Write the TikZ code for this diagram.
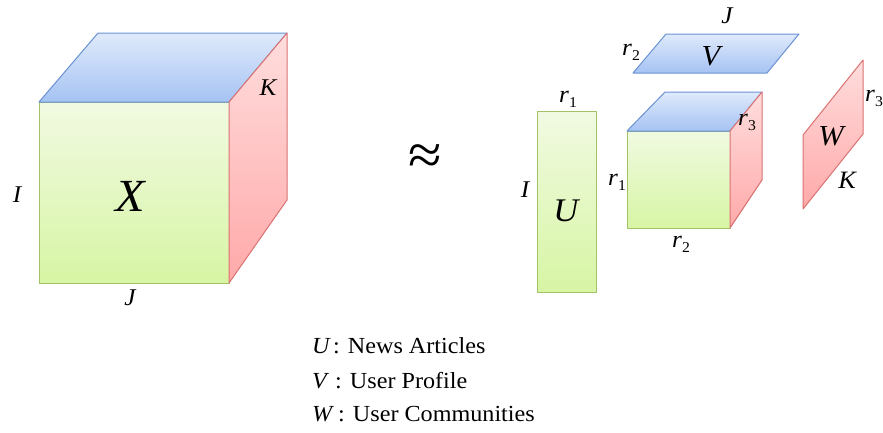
\documentclass[tikz,border=0pt]{standalone}
\usepackage{fontspec}
\setmainfont[FakeStretch=1.05]{Liberation Serif}
\newcommand\rsub[1]{\textit{r}\kern0.3pt\raisebox{-0.45ex}{\fontsize{15}{15}\selectfont\upshape #1}}
\definecolor{gTop}{HTML}{F1FAE2}
\definecolor{gBot}{HTML}{D7F5A4}
\definecolor{gLine}{HTML}{A3C266}
\definecolor{bTop}{HTML}{DFEAFB}
\definecolor{bBot}{HTML}{A6C3F3}
\definecolor{bLine}{HTML}{6A92D2}
\definecolor{rTop}{HTML}{FFDDDD}
\definecolor{rBot}{HTML}{FFA9A9}
\definecolor{rLine}{HTML}{DB7272}
\tikzset{
  gface/.style={top color=gTop,bottom color=gBot,draw=gLine,line width=1pt,line join=round},
  bface/.style={top color=bTop,bottom color=bBot,draw=bLine,line width=1pt,line join=round},
  rface/.style={top color=rTop,bottom color=rBot,draw=rLine,line width=1pt,line join=round},
  lab/.style={inner sep=0pt,font=\fontsize{24}{26}\selectfont\itshape},
  leg/.style={inner sep=0pt,anchor=base west,font=\fontsize{23}{26}\selectfont}
}
\begin{document}
\begin{tikzpicture}[x=1pt,y=-1pt]
\useasboundingbox (0,0) rectangle (883,432);
% big cube
\path[gface] (39,102) rectangle (229,283);
\path[bface] (39,102) -- (98,33) -- (287,33) -- (229,102) -- cycle;
\path[rface] (229,102) -- (287,33) -- (287,200) -- (229,283) -- cycle;
\node[lab] (bI) at (17,195) {I};
\node[lab,font=\fontsize{46}{48}\selectfont\itshape] (bX) at (130,196) {X};
\node[lab] (bK) at (268,88) {K};
\node[lab] (bJ) at (130,298) {J};
% approx
\node[inner sep=0pt,font=\fontsize{58}{58}\selectfont] (approx) at (425,160) {\char"2248};
% U
\path[gface] (537,111) rectangle (596,292);
\node[lab] (ur1) at (568,99) {\rsub{1}};
\node[lab] (uI) at (525,190) {I};
\node[lab,font=\fontsize{33}{35}\selectfont\itshape] (uU) at (566,211) {U};
% core cube
\path[gface] (627,131) rectangle (730,228);
\path[bface] (627,131) -- (665,92) -- (762,92) -- (730,131) -- cycle;
\path[rface] (730,131) -- (762,92) -- (762,180) -- (730,228) -- cycle;
\node[lab] (cr1) at (617,182) {\rsub{1}};
\node[lab] (cr2) at (681,244) {\rsub{2}};
\node[lab] (cr3) at (747,122) {\rsub{3}};
% V
\path[bface] (633,73) -- (767,73) -- (799,34) -- (666,34) -- cycle;
\node[lab] (vr2) at (631,52) {\rsub{2}};
\node[lab,font=\fontsize{29}{31}\selectfont\itshape] (vV) at (711,56) {V};
\node[lab] (vJ) at (727,16) {J};
% W
\path[rface] (803,135) -- (803,209) -- (863,134) -- (863,60) -- cycle;
\node[lab,font=\fontsize{29}{31}\selectfont\itshape] (wW) at (831,136) {W};
\node[lab,font=\fontsize{25}{27}\selectfont\itshape] (wK) at (847,180) {K};
\node[lab] (wr3) at (874,98) {\rsub{3}};
% legend
\node[leg] (lU) at (312,353) {\textit{U}};
\node[leg] (lUt) at (333,353) {: News Articles};
\node[leg] (lV) at (312,388) {\textit{V}};
\node[leg] (lVt) at (335,388) {: User Profile};
\node[leg] (lW) at (312,421) {\textit{W}};
\node[leg] (lWt) at (338,421) {: User Communities};
\end{tikzpicture}
\end{document}
